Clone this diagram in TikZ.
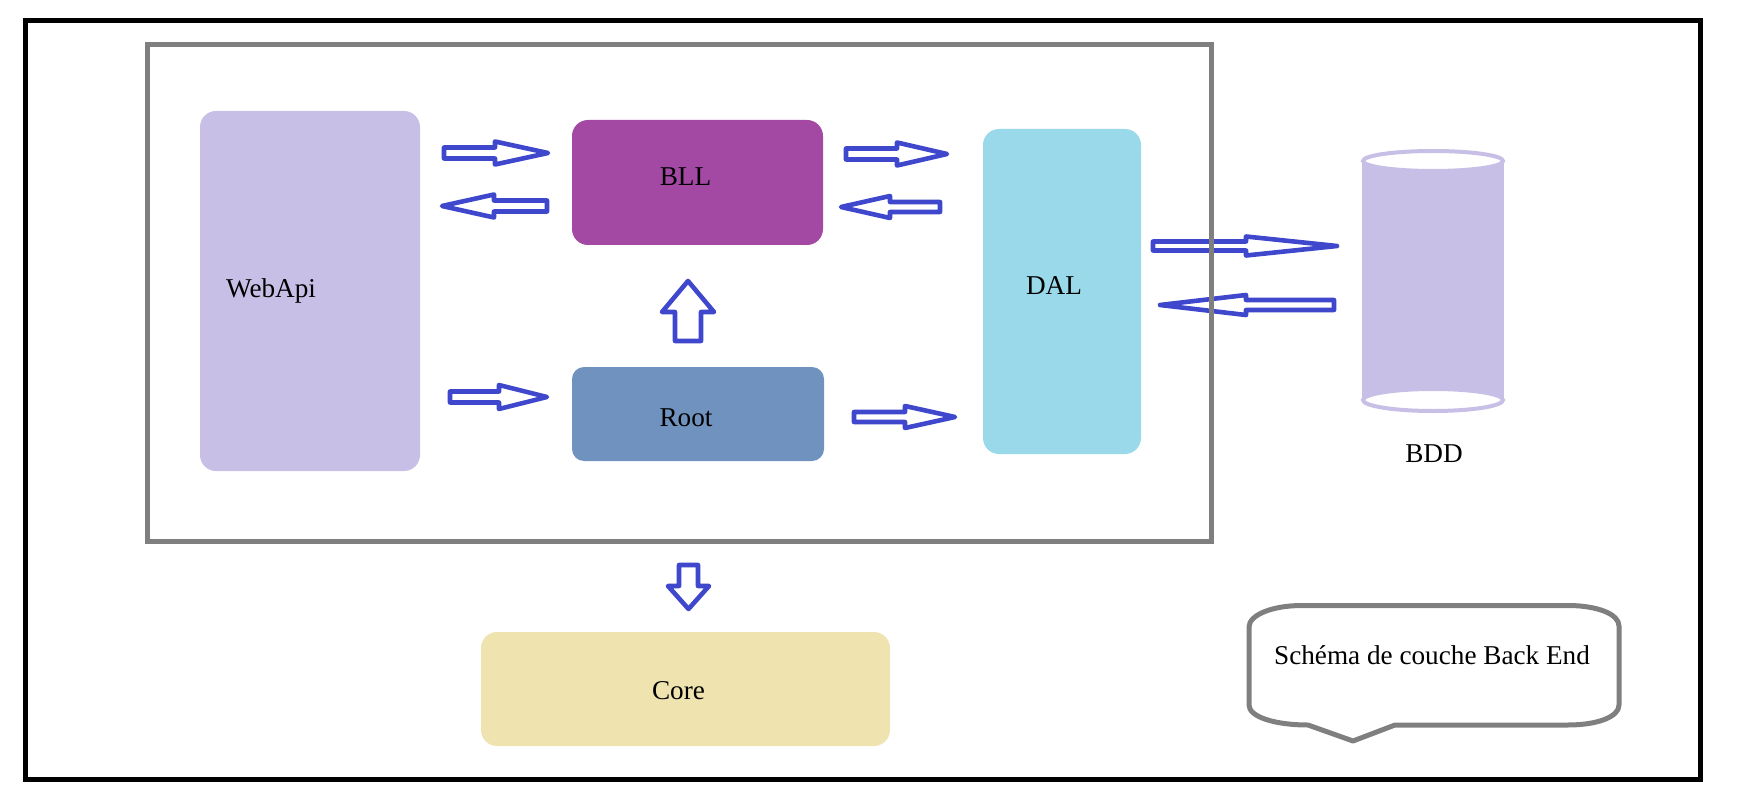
\documentclass[tikz,border=0pt]{standalone}
\usepackage{fontspec}
\setmainfont{Liberation Serif}

\definecolor{webapi}{RGB}{200,191,231}
\definecolor{bll}{RGB}{163,73,164}
\definecolor{root}{RGB}{112,146,190}
\definecolor{dal}{RGB}{153,217,234}
\definecolor{core}{RGB}{239,228,176}
\definecolor{arrowblue}{RGB}{63,72,204}
\definecolor{framegray}{RGB}{127,127,127}
\tikzset{
  layer/.style={rounded corners=8pt,inner sep=0pt},
  blockarrow/.style={draw=arrowblue,line width=2.3pt,line join=round},
  frame/.style={draw=framegray,line width=2.5pt},
}

\begin{document}
\begin{tikzpicture}[x=0.5pt,y=-0.5pt,font=\fontsize{13.6pt}{16pt}\selectfont]
    \useasboundingbox (0,0) rectangle (1755,802);
    \draw [line width=2.5pt] (25.5,20.5) rectangle (1700.5,779);

    % the layers
    \node [layer,fill=webapi,minimum width=110pt,minimum height=180pt,
      label={[xshift=-19.5pt]center:WebApi}] (webapi) at (310,291) {};
    \node [layer,fill=bll,minimum width=125.5pt,minimum height=62.5pt,
      label={[xshift=-6pt,yshift=3pt]center:BLL}] (bll) at (697.5,182.5) {};
    \node [layer,fill=root,minimum width=126pt,minimum height=47pt,rounded corners=6pt,
      label={[xshift=-6pt,yshift=-1.75pt]center:Root}] (root) at (698,414) {};
    \node [layer,fill=dal,minimum width=79pt,minimum height=162.5pt,
      label={[xshift=-4pt,yshift=3pt]center:DAL}] (dal) at (1062,291.5) {};
    \node [layer,fill=core,minimum width=204.5pt,minimum height=57pt,
      label={[xshift=-3.5pt,yshift=-1pt]center:Core}] (core) at (685.5,689) {};

    % block arrows
    \foreach \xa/\xh/\xb/\y/\s/\h in {444/495/548/153/5.5/11.5, 547/494/442/206/5.5/11.5,
      450/499/547/397/5.5/12, 846/897/947/154/5.5/11.5, 940/890/841/207/5/11,
      854/905/955/417/5/11, 1153/1246/1337/246/4.5/9.5, 1334/1246/1160/305/5/10}
    {
      \draw [blockarrow] (\xa,\y-\s) -- (\xh,\y-\s) -- (\xh,\y-\h) -- (\xb,\y)
        -- (\xh,\y+\h) -- (\xh,\y+\s) -- (\xa,\y+\s) -- cycle;
    }
    \foreach \x/\ya/\yh/\yb/\s/\h in {688/341/312/281/13/26, 688.5/565/586/609/9.5/20.5}
    {
      \draw [blockarrow] (\x-\s,\ya) -- (\x-\s,\yh) -- (\x-\h,\yh) -- (\x,\yb)
        -- (\x+\h,\yh) -- (\x+\s,\yh) -- (\x+\s,\ya) -- cycle;
    }

    % database
    \fill [webapi] (1362,161) rectangle (1504,400);
    \draw [webapi,line width=2pt,fill=white] (1433,400) ellipse [x radius=35pt,y radius=5.5pt];
    \draw [webapi,line width=2pt,fill=white] (1433,161) ellipse [x radius=35pt,y radius=5pt];
    \node (bdd) at (1434,454) {BDD};

    \draw [frame] (147.5,44.5) rectangle (1211.5,541.5);

    % callout
    \draw [frame,line join=round]
      (1249,627) .. controls (1249,615) and (1272,605.5) .. (1302,605.5) -- (1568,605.5)
      .. controls (1597,605.5) and (1619,614) .. (1619,626) -- (1619,705)
      .. controls (1619,717) and (1597,725) .. (1568,725) -- (1395,725) -- (1353,741)
      -- (1308,725) .. controls (1275,725) and (1249,717) .. (1249,705) -- cycle;
    \node (legend) at (1432,655) {Schéma de couche Back End};
\end{tikzpicture}
\end{document}
